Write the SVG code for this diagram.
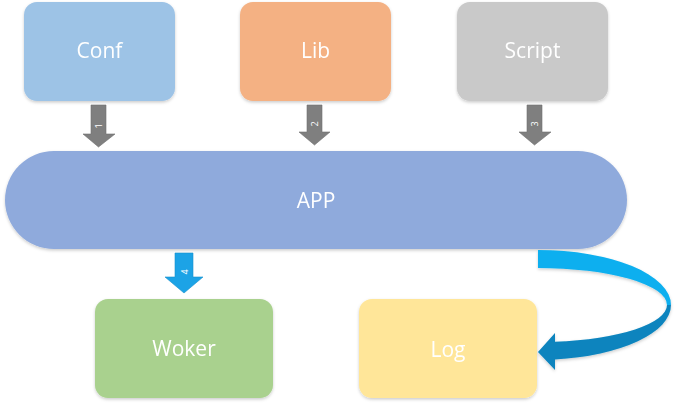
<svg xmlns="http://www.w3.org/2000/svg" width="681" height="406" viewBox="0 0 681 406">
<style>
.lbl{font-family:"Open Sans","Noto Sans",sans-serif;font-size:21px;fill:#fff;text-anchor:middle;dominant-baseline:central}
.num{font-family:"Open Sans","Noto Sans",sans-serif;font-size:9px;fill:#fff;text-anchor:middle;dominant-baseline:central}
.box{filter:url(#sh)}
.garr{fill:#7F7F7F;stroke:#6E6E6E;stroke-width:0.6}
</style>
<defs>
<filter id="sh" x="-10%" y="-10%" width="120%" height="130%">
<feDropShadow dx="0" dy="1.5" stdDeviation="1.5" flood-color="#000" flood-opacity="0.2"/>
</filter>
</defs>
<rect width="681" height="406" fill="#fff"/>
<g id="conf" class="box"><rect x="24" y="2" width="151" height="99" rx="13" fill="#9DC3E6"/><text class="lbl" x="99.5" y="50">Conf</text></g>
<g id="lib" class="box"><rect x="240" y="2" width="151" height="99" rx="13" fill="#F4B183"/><text class="lbl" x="315.5" y="50">Lib</text></g>
<g id="script" class="box"><rect x="457" y="2" width="151" height="99" rx="13" fill="#C9C9C9"/><text class="lbl" x="532.5" y="50">Script</text></g>
<g id="app" class="box"><rect x="5" y="151" width="622" height="98" rx="49" fill="#8FAADC"/><text class="lbl" x="316" y="200">APP</text></g>
<g id="woker" class="box"><rect x="95" y="299" width="178" height="99" rx="13" fill="#A9D18E"/><text class="lbl" x="184" y="348">Woker</text></g>
<g id="log" class="box"><rect x="359" y="299" width="178" height="99" rx="13" fill="#FFE699"/><text class="lbl" x="448" y="349">Log</text></g>
<g id="connectors">
<path class="garr" d="M91,105 H106 V134 H115 L98.5,147 L83,134 H91 Z"/>
<text class="num" transform="translate(98.5,126) rotate(-90)">1</text>
<path class="garr" d="M307,105 H322 V132 H330 L314.5,145 L299,132 H307 Z"/>
<text class="num" transform="translate(314.5,124) rotate(-90)">2</text>
<path class="garr" d="M527,105 H542 V132 H551 L534.5,145 L519,132 H527 Z"/>
<text class="num" transform="translate(534.5,124) rotate(-90)">3</text>
<path d="M175,253 H193 V277 H203 L184,293 L165,277 H175 Z" fill="#1CA3E6" stroke="#1790CC" stroke-width="0.6"/>
<text class="num" transform="translate(184,272) rotate(-90)">4</text>
<g filter="url(#sh)">
<path d="M538,250 A133,55 0 0 1 671,305 L667,305 A129,37 0 0 0 538,268 Z" fill="#0BAFEF"/>
<path d="M671,305 A133,55 0 0 1 555,359.5 L555,370 L538,352 L555,333 L555,341.7 A129,37 0 0 0 667,305 Z" fill="#0A84BE"/>
</g>
</g>
</svg>
